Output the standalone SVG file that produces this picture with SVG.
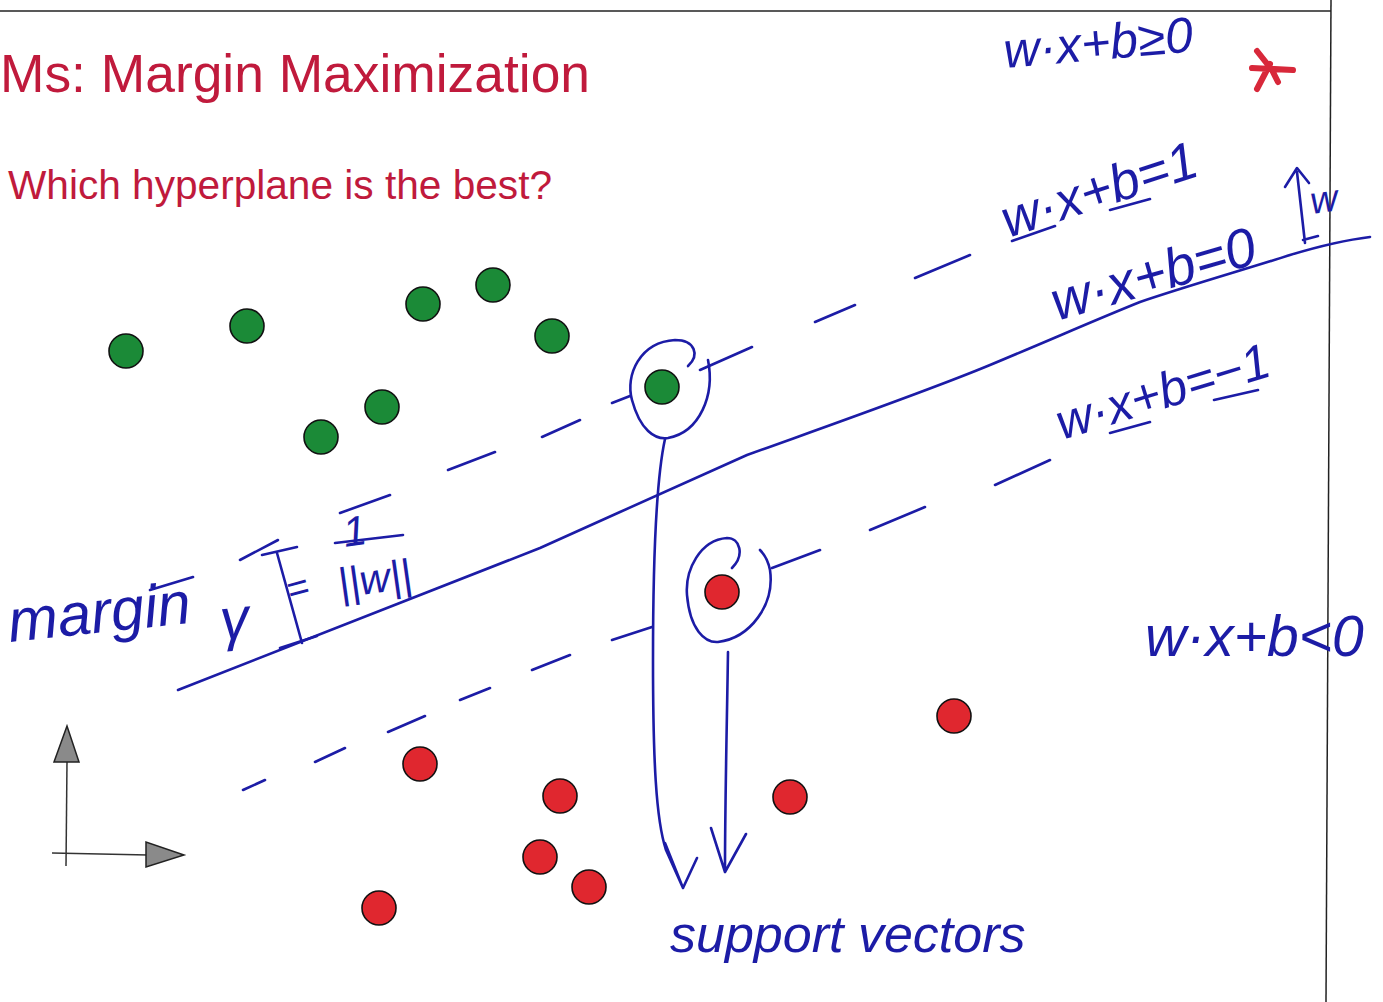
<svg xmlns="http://www.w3.org/2000/svg" width="1383" height="1002" viewBox="0 0 1383 1002">
<style>
.title{font-family:"Liberation Sans","Open Sans",sans-serif;fill:#c01a3c}
.hw{font-family:"Liberation Sans","DejaVu Sans",sans-serif;font-style:italic;fill:#1c1ca6}
.ink{fill:none;stroke:#1c1ca6;stroke-width:2.6;stroke-linecap:round;stroke-linejoin:round}
.g{fill:#1b8a37;stroke:#111;stroke-width:1.6}
.r{fill:#e0272f;stroke:#111;stroke-width:1.6}
.frame{stroke:#222;stroke-width:1.5;fill:none}
.axis{stroke:#333;stroke-width:1.5;fill:none}
.head{fill:#8a8a8a;stroke:#222;stroke-width:1.5}
</style>
<rect width="1383" height="1002" fill="#fff"/>
<g id="frame">
<line class="frame" x1="0" y1="11" x2="1331" y2="11"/>
<line class="frame" x1="1331" y1="0" x2="1326" y2="1002"/>
</g>
<g id="title">
<text class="title" x="0" y="92" font-size="54" textLength="590" lengthAdjust="spacingAndGlyphs">Ms: Margin Maximization</text>
<text class="title" x="8" y="199" font-size="40" textLength="544" lengthAdjust="spacingAndGlyphs">Which hyperplane is the best?</text>
</g>
<g id="axes">
<line class="axis" x1="67" y1="762" x2="66" y2="866"/>
<line class="axis" x1="52" y1="853" x2="148" y2="855"/>
<polygon class="head" points="67,726 54,762 79,762"/>
<polygon class="head" points="146,842 146,867 184,855"/>
</g>
<g id="connectors">
<path id="hyperplane" class="ink" d="M178,690 L540,548 L620,512 L747,455 C850,418 930,390 990,365 C1050,340 1100,318 1140,302 C1190,285 1250,268 1290,255 C1320,246 1345,240 1370,237"/>
<path id="margin-plus" class="ink" d="M150,590 L193,577 M240,560 L278,540 M340,513 L390,495 M448,470 L495,452 M542,437 L580,420 M612,403 L630,396 M700,370 L752,347 M815,322 L855,305 M915,278 L970,255"/>
<path id="margin-minus" class="ink" d="M243,790 L265,780 M315,762 L345,748 M388,732 L425,716 M460,700 L490,688 M532,670 L570,655 M612,640 L652,627 M772,568 L820,550 M870,530 L925,507 M995,485 L1050,460"/>
<path id="sv-circle-green" class="ink" d="M688,366 C700,355 695,340 675,340 C640,342 625,375 632,400 C640,430 655,440 668,438 C700,432 715,395 708,360"/>
<path id="sv-circle-red" class="ink" d="M732,568 C745,555 740,538 727,538 C700,540 685,570 687,595 C690,630 705,643 718,642 C750,638 775,605 770,570 C768,560 765,555 760,550"/>
<path id="sv-arrow-green" class="ink" d="M665,439 C656,480 653,560 653,660 C653,760 656,820 666,850 L683,888 M665,843 L683,888 L697,858"/>
<path id="sv-arrow-red" class="ink" d="M728,652 C727,720 725,800 725,870 M711,828 L725,872 L746,834"/>
<path id="w-arrow" class="ink" d="M1305,243 L1297,172 M1285,187 L1297,168 L1309,183 M1303,240 L1318,236"/>
<path id="underlines" class="ink" d="M1012,241 L1055,226 M1110,210 L1150,199 M1110,433 L1150,422 M1214,400 L1258,390"/>
<path id="margin-bracket" class="ink" d="M262,555 L297,547 M277,553 L302,643 M280,648 L317,636"/>
<path id="fraction-bar" class="ink" d="M335,543 L403,535"/>
</g>
<g id="green-points">
<circle class="g" cx="126" cy="351" r="17"/>
<circle class="g" cx="247" cy="326" r="17"/>
<circle class="g" cx="423" cy="304" r="17"/>
<circle class="g" cx="493" cy="285" r="17"/>
<circle class="g" cx="552" cy="336" r="17"/>
<circle class="g" cx="382" cy="407" r="17"/>
<circle class="g" cx="321" cy="437" r="17"/>
<circle class="g" cx="662" cy="387" r="17"/>
</g>
<g id="red-points">
<circle class="r" cx="722" cy="592" r="17"/>
<circle class="r" cx="954" cy="716" r="17"/>
<circle class="r" cx="420" cy="764" r="17"/>
<circle class="r" cx="560" cy="796" r="17"/>
<circle class="r" cx="790" cy="797" r="17"/>
<circle class="r" cx="540" cy="857" r="17"/>
<circle class="r" cx="589" cy="887" r="17"/>
<circle class="r" cx="379" cy="908" r="17"/>
</g>
<g id="star">
<path d="M1257,51 L1272,70 M1252,68 L1293,70 M1270,64 L1257,89 M1272,70 L1278,82" fill="none" stroke="#d8283a" stroke-width="6" stroke-linecap="round"/>
</g>
<g id="labels">
<text class="hw" font-size="50" transform="translate(1005,68) rotate(-5)">w·x+b≥0</text>
<text class="hw" font-size="53" transform="translate(1008,238) rotate(-18)">w·x+b=1</text>
<text class="hw" font-size="55" transform="translate(1057,321) rotate(-16)">w·x+b=0</text>
<text class="hw" font-size="38" transform="translate(1312,214) rotate(-8)">w</text>
<text class="hw" font-size="50" transform="translate(1062,440) rotate(-17)">w·x+b=−1</text>
<text class="hw" font-size="57" x="1145" y="656">w·x+b&lt;0</text>
<text class="hw" font-size="60" transform="translate(10,642) rotate(-6)">margin</text>
<text class="hw" font-size="58" transform="translate(222,640) rotate(-6)">γ</text>
<text class="hw" font-size="38" transform="translate(290,603) rotate(-15)">=</text>
<text class="hw" font-size="42" transform="translate(345,547) rotate(-8)">1</text>
<text class="hw" font-size="42" transform="translate(340,598) rotate(-8)">||w||</text>
<text class="hw" font-size="52" x="670" y="952">support vectors</text>
</g>
</svg>
